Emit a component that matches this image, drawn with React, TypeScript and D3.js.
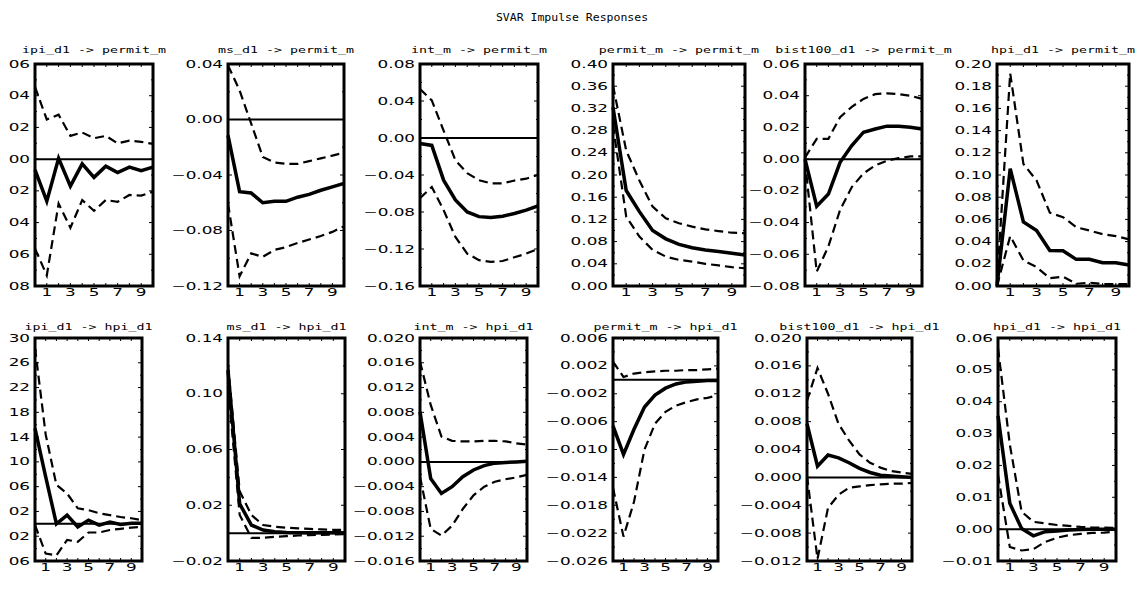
import React from "react";
import * as d3 from "d3";

// ---------- data ----------
const steps = [0, 1, 2, 3, 4, 5, 6, 7, 8, 9, 10];
const xTickLabels = [1, 3, 5, 7, 9];
const chartTitle = "SVAR Impulse Responses";
const shocks = ["ipi_d1", "ms_d1", "int_m", "permit_m", "bist100_d1", "hpi_d1"];
const targets = ["permit_m", "hpi_d1"];

// responses of permit_m
const ipiPermitMid = [-0.0068, -0.0265, 0.0005, -0.017, -0.003, -0.0115, -0.0044, -0.0085, -0.005, -0.0073, -0.005];
const ipiPermitHi = [0.0455, 0.025, 0.028, 0.0147, 0.0168, 0.0132, 0.0147, 0.01, 0.0117, 0.0109, 0.0096];
const ipiPermitLo = [-0.0564, -0.0733, -0.028, -0.0433, -0.0258, -0.0326, -0.0258, -0.0269, -0.0226, -0.023, -0.0205];
const ipiPermitTicks = [0.06, 0.04, 0.02, 0.0, -0.02, -0.04, -0.06, -0.08];

const msPermitMid = [-0.0115, -0.052, -0.053, -0.06, -0.059, -0.059, -0.056, -0.054, -0.051, -0.0486, -0.046];
const msPermitHi = [0.039, 0.021, -0.003, -0.027, -0.031, -0.032, -0.032, -0.03, -0.028, -0.026, -0.024];
const msPermitLo = [-0.0606, -0.113, -0.0965, -0.099, -0.094, -0.092, -0.089, -0.0865, -0.084, -0.081, -0.077];
const msPermitTicks = [0.04, 0.0, -0.04, -0.08, -0.12];

const intPermitMid = [-0.006, -0.008, -0.0456, -0.067, -0.08, -0.085, -0.086, -0.0845, -0.0816, -0.078, -0.0733];
const intPermitHi = [0.053, 0.0406, 0.008, -0.024, -0.038, -0.0456, -0.049, -0.049, -0.046, -0.044, -0.04];
const intPermitLo = [-0.065, -0.053, -0.078, -0.107, -0.125, -0.132, -0.134, -0.133, -0.129, -0.125, -0.12];
const intPermitTicks = [0.08, 0.04, 0.0, -0.04, -0.08, -0.12, -0.16];

const permitPermitMid = [0.322, 0.172, 0.134, 0.1, 0.085, 0.075, 0.069, 0.065, 0.062, 0.059, 0.056];
const permitPermitHi = [0.361, 0.244, 0.19, 0.143, 0.122, 0.113, 0.107, 0.102, 0.099, 0.096, 0.095];
const permitPermitLo = [0.29, 0.125, 0.089, 0.065, 0.053, 0.047, 0.044, 0.04, 0.037, 0.034, 0.032];
const permitPermitTicks = [0.4, 0.36, 0.32, 0.28, 0.24, 0.2, 0.16, 0.12, 0.08, 0.04, 0.0];

const bistPermitMid = [0.0, -0.0297, -0.022, -0.002, 0.0086, 0.017, 0.019, 0.0208, 0.0207, 0.0201, 0.019];
const bistPermitHi = [0.001, 0.0128, 0.0128, 0.0265, 0.033, 0.038, 0.041, 0.0415, 0.041, 0.04, 0.038];
const bistPermitLo = [-0.001, -0.071, -0.055, -0.032, -0.0176, -0.009, -0.004, -0.001, 0.0006, 0.0017, 0.0017];
const bistPermitTicks = [0.06, 0.04, 0.02, 0.0, -0.02, -0.04, -0.06, -0.08];

const hpiPermitMid = [0.0, 0.1057, 0.0578, 0.05, 0.032, 0.0317, 0.024, 0.024, 0.021, 0.021, 0.019];
const hpiPermitHi = [0.003, 0.1916, 0.11, 0.095, 0.066, 0.062, 0.053, 0.05, 0.0467, 0.045, 0.042];
const hpiPermitLo = [0.0, 0.045, 0.023, 0.017, 0.007, 0.0084, 0.002, 0.003, 0.0018, 0.0018, 0.0018];
const hpiPermitTicks = [0.2, 0.18, 0.16, 0.14, 0.12, 0.1, 0.08, 0.06, 0.04, 0.02, 0.0];

// responses of hpi_d1
const ipiHpiMid = [0.0154, 0.0076, 0.0, 0.0014, -0.0005, 0.0006, -0.0002, 0.0003, -0.0001, 0.0001, 0.0001];
const ipiHpiHi = [0.0284, 0.0144, 0.0063, 0.0049, 0.0025, 0.0022, 0.0017, 0.0014, 0.0011, 0.0009, 0.0006];
const ipiHpiLo = [-0.0002, -0.0048, -0.0051, -0.0026, -0.0029, -0.0014, -0.0014, -0.001, -0.0008, -0.0006, -0.0005];
const ipiHpiTicks = [0.03, 0.026, 0.022, 0.018, 0.014, 0.01, 0.006, 0.002, -0.002, -0.006];

const msHpiMid = [0.117, 0.021, 0.0058, 0.0022, 0.001, 0.0005, 0.0003, 0.0003, 0.0002, 0.0002, 0.0002];
const msHpiHi = [0.1207, 0.03, 0.013, 0.0058, 0.0046, 0.0039, 0.0034, 0.003, 0.0027, 0.0024, 0.0022];
const msHpiLo = [0.105, 0.013, -0.0034, -0.0034, -0.0027, -0.0022, -0.0017, -0.0014, -0.0012, -0.001, -0.0008];
const msHpiTicks = [0.14, 0.1, 0.06, 0.02, -0.02];

const intHpiMid = [0.0081, -0.0027, -0.0051, -0.004, -0.0024, -0.0013, -0.0006, -0.0002, -0.0001, 0.0, 0.0001];
const intHpiHi = [0.0162, 0.0092, 0.0041, 0.0034, 0.0033, 0.0033, 0.0034, 0.0034, 0.0033, 0.003, 0.0028];
const intHpiLo = [-0.0024, -0.0108, -0.0119, -0.0103, -0.0076, -0.0054, -0.004, -0.0032, -0.0028, -0.0025, -0.0021];
const intHpiTicks = [0.02, 0.016, 0.012, 0.008, 0.004, 0.0, -0.004, -0.008, -0.012, -0.016];

const permitHpiMid = [-0.0066, -0.0107, -0.0071, -0.0039, -0.0022, -0.0012, -0.0006, -0.0003, -0.0002, -0.0001, -0.0001];
const permitHpiHi = [0.0026, 0.0004, 0.0009, 0.0011, 0.0012, 0.0013, 0.0013, 0.0014, 0.0014, 0.0015, 0.0016];
const permitHpiLo = [-0.0155, -0.0225, -0.0175, -0.01, -0.0063, -0.0046, -0.0037, -0.0032, -0.0028, -0.0026, -0.0022];
const permitHpiTicks = [0.006, 0.002, -0.002, -0.006, -0.01, -0.014, -0.018, -0.022, -0.026];

const bistHpiMid = [0.0077, 0.0016, 0.0032, 0.0028, 0.0021, 0.0013, 0.0007, 0.0003, 0.0002, 0.0001, 0.0];
const bistHpiHi = [0.011, 0.0157, 0.012, 0.0077, 0.0053, 0.0033, 0.0021, 0.0014, 0.0009, 0.0007, 0.0005];
const bistHpiLo = [0.0002, -0.0117, -0.0044, -0.0025, -0.0015, -0.0013, -0.0011, -0.001, -0.0009, -0.0009, -0.0008];
const bistHpiTicks = [0.02, 0.016, 0.012, 0.008, 0.004, 0.0, -0.004, -0.008, -0.012];

const hpiHpiMid = [0.0356, 0.0081, 0.0002, -0.0021, -0.0008, -0.0006, -0.0003, -0.0001, 0.0, 0.0, 0.0];
const hpiHpiHi = [0.0568, 0.0266, 0.0055, 0.0023, 0.0018, 0.0013, 0.001, 0.0007, 0.0005, 0.0005, 0.0004];
const hpiHpiLo = [0.0171, -0.0056, -0.0067, -0.0063, -0.004, -0.0027, -0.0019, -0.0015, -0.0012, -0.0011, -0.0008];
const hpiHpiTicks = [0.06, 0.05, 0.04, 0.03, 0.02, 0.01, 0.0, -0.01];

const panelData = [
  [
    { mid: ipiPermitMid, hi: ipiPermitHi, lo: ipiPermitLo, ticks: ipiPermitTicks, dec: 2 },
    { mid: msPermitMid, hi: msPermitHi, lo: msPermitLo, ticks: msPermitTicks, dec: 2 },
    { mid: intPermitMid, hi: intPermitHi, lo: intPermitLo, ticks: intPermitTicks, dec: 2 },
    { mid: permitPermitMid, hi: permitPermitHi, lo: permitPermitLo, ticks: permitPermitTicks, dec: 2 },
    { mid: bistPermitMid, hi: bistPermitHi, lo: bistPermitLo, ticks: bistPermitTicks, dec: 2 },
    { mid: hpiPermitMid, hi: hpiPermitHi, lo: hpiPermitLo, ticks: hpiPermitTicks, dec: 2 },
  ],
  [
    { mid: ipiHpiMid, hi: ipiHpiHi, lo: ipiHpiLo, ticks: ipiHpiTicks, dec: 3 },
    { mid: msHpiMid, hi: msHpiHi, lo: msHpiLo, ticks: msHpiTicks, dec: 2 },
    { mid: intHpiMid, hi: intHpiHi, lo: intHpiLo, ticks: intHpiTicks, dec: 3 },
    { mid: permitHpiMid, hi: permitHpiHi, lo: permitHpiLo, ticks: permitHpiTicks, dec: 3 },
    { mid: bistHpiMid, hi: bistHpiHi, lo: bistHpiLo, ticks: bistHpiTicks, dec: 3 },
    { mid: hpiHpiMid, hi: hpiHpiHi, lo: hpiHpiLo, ticks: hpiHpiTicks, dec: 2 },
  ],
];

// ---------- layout ----------
const W = 1144;
const H = 597;
const rows = [
  { top: 64, bottom: 286, titleY: 53, boxes: [[35, 153], [228, 344], [420, 538], [613, 745], [805, 922], [997, 1129]] },
  { top: 338, bottom: 561, titleY: 330, boxes: [[35, 142], [228, 345], [420, 527], [613, 718], [807, 912], [998, 1116]] },
];
const MONO = "'DejaVu Sans Mono', monospace";
const SANS = "'DejaVu Sans', sans-serif";
const TICK_FS = 10;
const TICK_SX = 1.68;
const LABEL_GAP = 5;

function Panel({ d, box, row, title, col }: any) {
  const x = d3.scaleLinear().domain([steps[0], steps[steps.length - 1]]).range([box[0], box[1]]);
  const y = d3.scaleLinear().domain([d.ticks[d.ticks.length - 1], d.ticks[0]]).range([row.bottom, row.top]);
  const line = d3.line<number>().x((_, i) => x(steps[i])).y((v) => y(v));
  const fmt = d3.format(`.${d.dec}f`);
  const minor = d.ticks.slice(1).map((t: number, i: number) => (t + d.ticks[i]) / 2);
  const labelRight = box[0] - LABEL_GAP;
  // the first column of the reference only shows the last two digits of each label
  const label = (t: number) => (col === 0 ? fmt(t).slice(-2) : fmt(t));
  return (
    <g>
      <text
        transform={`translate(${(box[0] + box[1]) / 2},${row.titleY}) scale(1.48,1)`}
        textAnchor="middle"
        fontFamily={MONO}
        fontSize={9}
        fill="#000"
      >
        {title}
      </text>
      {d.ticks.map((t: number, i: number) => (
        <text
          key={i}
          transform={`translate(${labelRight},${y(t)}) scale(${TICK_SX},1)`}
          textAnchor="end"
          dy="0.36em"
          fontFamily={SANS}
          fontSize={TICK_FS}
          fill="#000"
        >
          {label(t)}
        </text>
      ))}
      {xTickLabels.map((t) => (
        <text
          key={t}
          transform={`translate(${x(t)},${row.bottom + 10}) scale(${TICK_SX},1)`}
          textAnchor="middle"
          fontFamily={SANS}
          fontSize={TICK_FS}
          fill="#000"
        >
          {t}
        </text>
      ))}
      <g stroke="#000" strokeWidth={1}>
        {d.ticks.map((t: number, i: number) => (
          <g key={i}>
            <line x1={box[0]} x2={box[0] + 4} y1={y(t)} y2={y(t)} />
            <line x1={box[1]} x2={box[1] - 4} y1={y(t)} y2={y(t)} />
          </g>
        ))}
        {minor.map((t: number, i: number) => (
          <g key={i}>
            <line x1={box[0]} x2={box[0] + 2} y1={y(t)} y2={y(t)} />
            <line x1={box[1]} x2={box[1] - 2} y1={y(t)} y2={y(t)} />
          </g>
        ))}
        {steps.map((s) => (
          <g key={s}>
            <line x1={x(s)} x2={x(s)} y1={row.top} y2={row.top + 3} />
            <line x1={x(s)} x2={x(s)} y1={row.bottom} y2={row.bottom - 3} />
          </g>
        ))}
      </g>
      <line x1={box[0]} x2={box[1]} y1={y(0)} y2={y(0)} stroke="#000" strokeWidth={2} />
      <path d={line(d.hi) || ""} fill="none" stroke="#000" strokeWidth={2.2} strokeDasharray="9,5" />
      <path d={line(d.lo) || ""} fill="none" stroke="#000" strokeWidth={2.2} strokeDasharray="9,5" />
      <path d={line(d.mid) || ""} fill="none" stroke="#000" strokeWidth={3.5} />
      <rect x={box[0]} y={row.top} width={box[1] - box[0]} height={row.bottom - row.top} fill="none" stroke="#000" strokeWidth={3} />
    </g>
  );
}

export default function App() {
  return (
    <svg width={W} height={H} style={{ position: "absolute", left: 0, top: 0, background: "#fff" }}>
      <rect x={0} y={0} width={W} height={H} fill="#fff" />
      <text
        transform={`translate(${W / 2},21) scale(1.15,1)`}
        textAnchor="middle"
        fontFamily={MONO}
        fontSize={10}
        fill="#000"
      >
        {chartTitle}
      </text>
      {rows.map((row, r) =>
        row.boxes.map((box, c) => (
          <Panel
            key={`${r}-${c}`}
            d={panelData[r][c]}
            box={box}
            row={row}
            col={c}
            title={`${shocks[c]} -> ${targets[r]}`}
          />
        ))
      )}
    </svg>
  );
}
